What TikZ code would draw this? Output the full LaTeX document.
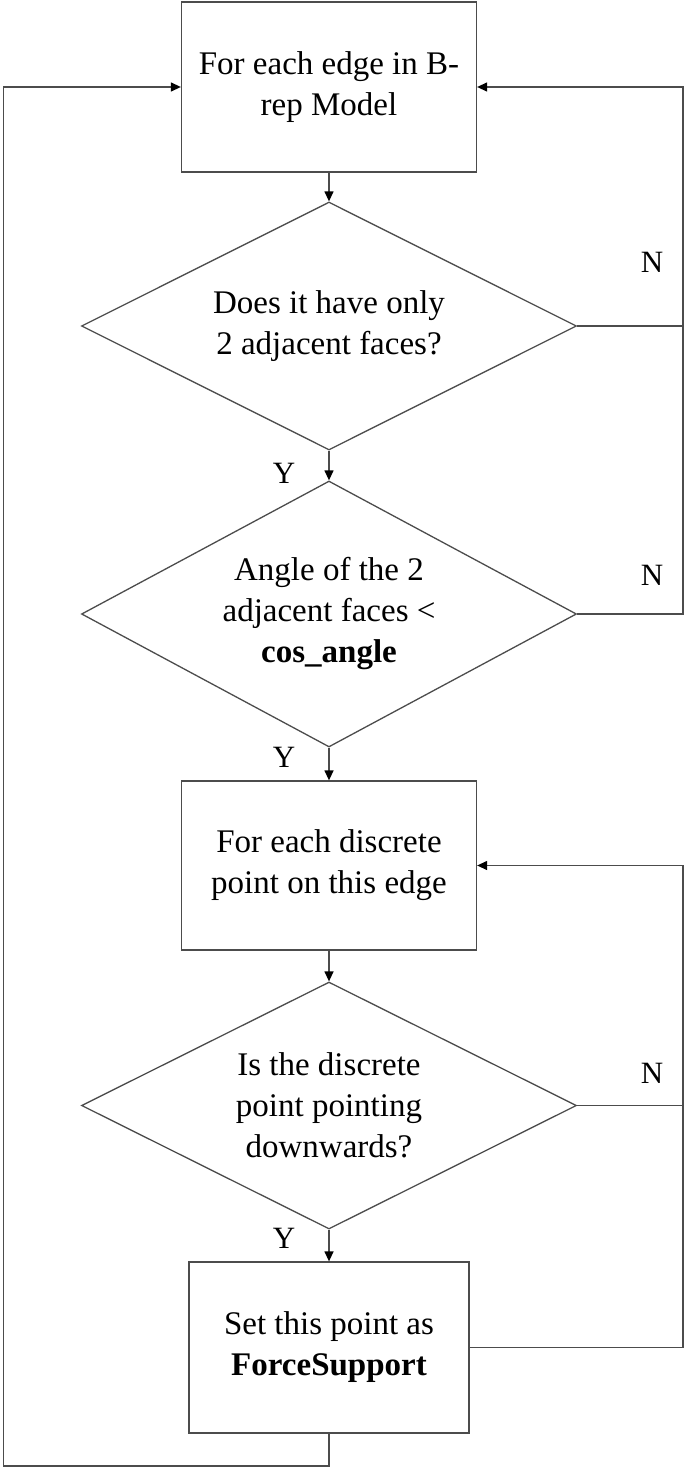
\documentclass[tikz,border=0pt]{standalone}
\usepackage{fontspec}
\setmainfont{Liberation Serif}
\usetikzlibrary{shapes.geometric,arrows.meta}
\begin{document}
\begin{tikzpicture}[x=1pt,y=1pt,
  line/.style={draw=black!70, line width=1.3pt},
  arr/.style={line, -{Triangle[length=10pt,width=9pt,fill=black,color=black]}},
  boxnode/.style={draw=black!70, line width=1.3pt, inner sep=0pt},
  dia/.style={draw=black!70, line width=1.3pt, shape=diamond, inner sep=0pt, minimum width=495pt},
  txt/.style={align=center, font=\fontsize{33}{41}\selectfont},
  lbl/.style={font=\fontsize{31}{34}\selectfont}]
\useasboundingbox (0,0) rectangle (685,-1469);
\node[boxnode, minimum width=295pt, minimum height=170pt] (b1) at (329,-87) {};
\node[txt] (t1) at (b1) {For each edge in B-\\rep Model};
\node[dia, minimum height=248pt] (d1) at (329,-326) {};
\node[txt] (t2) at (d1) {Does it have only\\2 adjacent faces?};
\node[dia, minimum height=266pt] (d2) at (329,-614) {};
\node[txt] (t3) at (d2) {Angle of the 2\\adjacent faces <\\\textbf{cos\_angle}};
\node[boxnode, minimum width=295pt, minimum height=169pt] (b2) at (329,-865.5) {};
\node[txt] (t4) at (b2) {For each discrete\\point on this edge};
\node[dia, minimum height=247pt] (d3) at (329,-1105.5) {};
\node[txt] (t5) at (d3) {Is the discrete\\point pointing\\downwards?};
\node[boxnode, minimum width=280pt, minimum height=171pt] (b3) at (329,-1347.5) {};
\node[txt] (t6) at (b3) {Set this point as\\\textbf{ForceSupport}};
\coordinate (r1) at (683,-326);
\coordinate (r2) at (683,-614);
\coordinate (r3) at (683,-1105.5);
\coordinate (r4) at (683,-1347.5);
\coordinate (top1) at (683,-87);
\coordinate (top2) at (683,-865.5);
\coordinate (bl) at (329,-1466);
\coordinate (lb) at (3.5,-1466);
\coordinate (lt) at (3.5,-87);
\draw[arr] (b1.south) -- (d1.north);
\draw[arr] (d1.south) -- (d2.north);
\draw[arr] (d2.south) -- (b2.north);
\draw[arr] (b2.south) -- (d3.north);
\draw[arr] (d3.south) -- (b3.north);
\draw[arr] (d1.east) -- (r1) -- (top1) -- (b1.east);
\draw[line] (d2.east) -- (r2) -- (r1);
\draw[arr] (d3.east) -- (r3) -- (top2) -- (b2.east);
\draw[line] (b3.east) -- (r4) -- (r3);
\draw[arr] (b3.south) -- (bl) -- (lb) -- (lt) -- (b1.west);
\node[lbl] (y1) at (284,-473) {Y};
\node[lbl] (y2) at (284,-757) {Y};
\node[lbl] (y3) at (284,-1238) {Y};
\node[lbl] (n1) at (652,-262) {N};
\node[lbl] (n2) at (652,-575) {N};
\node[lbl] (n3) at (652,-1073) {N};
\end{tikzpicture}
\end{document}
